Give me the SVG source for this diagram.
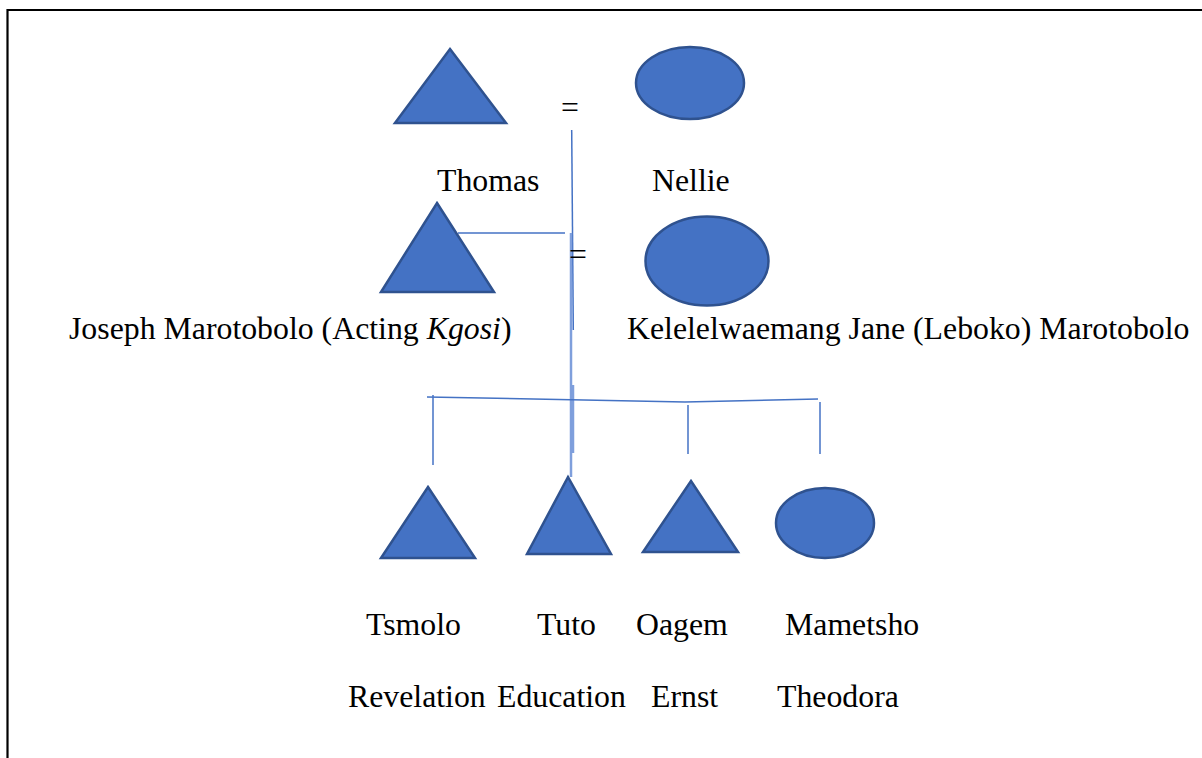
<svg xmlns="http://www.w3.org/2000/svg" width="1202" height="758" viewBox="0 0 1202 758">
<style>
.shape{fill:#4472C4;stroke:#2F528F;stroke-width:2.5}
.t{font-family:"Liberation Serif","Times New Roman",serif;font-size:31.8px;fill:#000}
.c{stroke:#4472C4;stroke-width:1.5;fill:none}
.cl{stroke:#7F9FDC;stroke-width:2.5;fill:none}
.frame{stroke:#000;stroke-width:2.2;fill:none}
</style>
<rect width="1202" height="758" fill="#fff"/>
<path class="frame" d="M7.5,758 V10 H1202"/>
<g id="connectors">
<line class="c" x1="571.7" y1="130" x2="573.3" y2="330"/>
<line class="c" x1="458" y1="233" x2="565" y2="233"/>
<line class="cl" x1="571" y1="233" x2="571" y2="477"/>
<line class="cl" x1="573" y1="385" x2="573" y2="453"/>
<polyline class="c" points="427,397 685,402 818,399"/>
<line class="c" x1="433" y1="395" x2="433" y2="465"/>
<line class="c" x1="688" y1="405" x2="688" y2="454"/>
<line class="c" x1="820" y1="402" x2="820" y2="454"/>
</g>
<g id="eq1"><text class="t" x="570" y="118" text-anchor="middle">=</text></g>
<g id="eq2"><text class="t" x="578" y="265" text-anchor="middle">=</text></g>
<g id="thomas">
<polygon class="shape" points="450,49 506,123 395,123"/>
<text class="t" x="437" y="191">Thomas</text>
</g>
<g id="nellie">
<ellipse class="shape" cx="690" cy="83" rx="54" ry="36"/>
<text class="t" x="652" y="191">Nellie</text>
</g>
<g id="joseph">
<polygon class="shape" points="437,203 494,292 381,292"/>
<text class="t" x="69" y="339">Joseph Marotobolo (Acting <tspan font-style="italic">Kgosi</tspan>)</text>
</g>
<g id="kelelelwaemang">
<ellipse class="shape" cx="707" cy="261" rx="61.5" ry="44.5"/>
<text class="t" x="627" y="339">Kelelelwaemang Jane (Leboko) Marotobolo</text>
</g>
<g id="tsmolo">
<polygon class="shape" points="428,487 475,558 381,558"/>
<text class="t" x="366" y="635">Tsmolo</text>
<text class="t" x="348" y="707">Revelation</text>
</g>
<g id="tuto">
<polygon class="shape" points="568,477 611,554 527,554"/>
<text class="t" x="537" y="635">Tuto</text>
<text class="t" x="497" y="707">Education</text>
</g>
<g id="oagem">
<polygon class="shape" points="691,481 738,552 643,552"/>
<text class="t" x="636" y="635">Oagem</text>
<text class="t" x="651" y="707">Ernst</text>
</g>
<g id="mametsho">
<ellipse class="shape" cx="825" cy="523" rx="49" ry="35"/>
<text class="t" x="785" y="635">Mametsho</text>
<text class="t" x="777" y="707">Theodora</text>
</g>
</svg>
